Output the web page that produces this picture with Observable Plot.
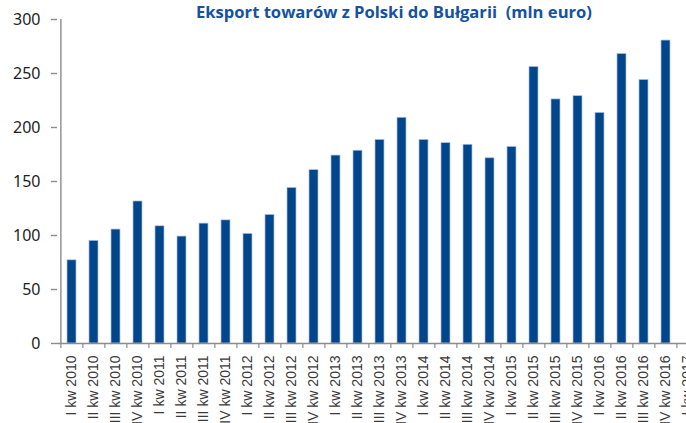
<!DOCTYPE html>
<html>
<head>
<meta charset="utf-8">
<script src="https://cdn.jsdelivr.net/npm/d3@7"></script>
<script src="https://cdn.jsdelivr.net/npm/@observablehq/plot@0.6"></script>
<style>
  html, body { margin: 0; padding: 0; background: #fff; overflow: hidden; }
  #wrap { position: relative; width: 686px; height: 423px; overflow: hidden; }
  #title { position: absolute; left: 0; top: 2px; width: 788px; text-align: center;
    font-family: "Open Sans", sans-serif; font-weight: 700; font-size: 16.6px; line-height: 20px;
    color: #1552a0; white-space: pre; }
  #chart { position: absolute; left: 0; top: 0; width: 702px; }
  #chart svg { max-width: none !important; }
</style>
</head>
<body>
<div id="wrap">
  <div id="chart"></div>
  <div id="title">Eksport towarów z Polski do Bułgarii  (mln euro)</div>
</div>
<script>
const titleText = "Eksport towarów z Polski do Bułgarii  (mln euro)";
const quarters = ["I", "II", "III", "IV"];
const years = [2010, 2011, 2012, 2013, 2014, 2015, 2016, 2017];
const labels = [];
for (const yr of years) for (const q of quarters) labels.push(q + " kw " + yr);
const categories = labels.slice(0, 29); // up to "I kw 2017"
const values = [77, 95, 105.5, 131.5, 108.5, 99, 111, 114, 101.5, 119, 144, 160.5,
  174, 178.5, 188.5, 209, 188.5, 185.5, 184, 171.5, 182, 256, 226, 229, 213.5, 268, 244, 280.5];
const yTicks = [0, 50, 100, 150, 200, 250, 300];

const data = values.map((v, i) => ({label: categories[i], value: v}));

const W = 702, ML = 57;
const step = (W - ML) / categories.length;
const axisColor = "#8c8c8c";

const chart = Plot.plot({
  width: W,
  height: 423,
  marginLeft: ML,
  marginRight: 0,
  marginTop: 19,
  marginBottom: 80,
  style: {background: "transparent", overflow: "visible", maxWidth: "none"},
  x: {domain: categories, paddingInner: 0.6, paddingOuter: 0.3, label: null},
  y: {domain: [0, 300], ticks: yTicks, label: null},
  marks: [
    Plot.barY(data, {x: "label", y: "value", fill: "#01458b", stroke: "#a9bfdf", strokeWidth: 0.7}),
    Plot.ruleY([0], {stroke: axisColor, strokeWidth: 1.4}),
    Plot.ruleX([categories[0]], {y1: 0, y2: 300, stroke: axisColor, strokeWidth: 1.4, dx: -step / 2}),
    Plot.axisX({tickSize: 5, text: null, stroke: axisColor, strokeWidth: 1.2, dx: -step / 2, tickPadding: 0}),
    Plot.axisY({tickSize: 6, tickPadding: 11, fontSize: 16, stroke: axisColor, strokeWidth: 1.4,
      fontFamily: "Noto Sans", fill: "#1e1e1e", tickFormat: d => String(d)}),
    Plot.axisX({tickSize: 0, tickRotate: -90, tickPadding: 12, fontSize: 14,
      fontFamily: "Liberation Sans", fill: "#3a3a3a"})
  ]
});
document.getElementById("chart").appendChild(chart);
</script>
</body>
</html>
